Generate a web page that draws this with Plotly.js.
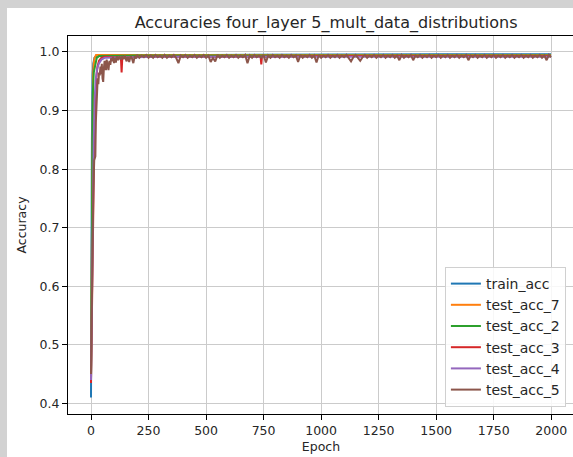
<!DOCTYPE html>
<html>
<head>
<meta charset="utf-8">
<script src="https://cdn.plot.ly/plotly-3.0.1.min.js"></script>
<style>
html, body { margin:0; padding:0; overflow:hidden; background:#d2d2d2; width:573px; height:457px; }
#plot { position:absolute; left:7px; top:8px; width:568px; height:449px; background:#fff; }
</style>
</head>
<body>
<div id="plot"></div>
<script>
// Series data (epoch, accuracy)
const seriesNames = ["train_acc", "test_acc_7", "test_acc_2", "test_acc_3", "test_acc_4", "test_acc_5"];
const seriesColors = ["#1f77b4", "#ff7f0e", "#2ca02c", "#d62728", "#9467bd", "#8c564b"];

const trainEpochs = [0, 1, 2, 3, 4, 5, 7, 10, 15, 25, 100, 500, 1000, 1500, 1999];
const trainAcc    = [0.41, 0.47, 0.60, 0.74, 0.85, 0.92, 0.96, 0.98, 0.99, 0.994, 0.995, 0.995, 0.996, 0.996, 0.996];

const test7Epochs = [0, 2, 4, 6, 9, 12, 16, 22, 100, 500, 1000, 1500, 1999];
const test7Acc    = [0.44, 0.60, 0.80, 0.90, 0.96, 0.98, 0.99, 0.995, 0.995, 0.995, 0.995, 0.995, 0.995];

const test2Epochs = [0, 3, 5, 8, 12, 18, 25, 35, 200, 800, 1400, 1999];
const test2Acc    = [0.44, 0.70, 0.85, 0.93, 0.965, 0.98, 0.99, 0.993, 0.994, 0.994, 0.994, 0.994];

const test3Epochs = [0, 3, 6, 10, 13, 16, 18, 22, 28, 35, 45, 60, 100, 130, 133, 136, 200, 400, 737, 740, 743, 1000, 1500, 1999];
const test3Acc    = [0.435, 0.52, 0.64, 0.76, 0.82, 0.83, 0.90, 0.95, 0.975, 0.985, 0.99, 0.992, 0.991, 0.99, 0.965, 0.99, 0.992, 0.992, 0.992, 0.979, 0.992, 0.993, 0.993, 0.993];

const test4Epochs = [0, 4, 8, 12, 16, 20, 26, 34, 45, 60, 300, 900, 1500, 1999];
const test4Acc    = [0.44, 0.60, 0.75, 0.85, 0.92, 0.95, 0.97, 0.98, 0.987, 0.99, 0.992, 0.992, 0.992, 0.992];

const test5Epochs = [0, 3, 6, 10, 14, 19, 21, 23, 26, 29, 32, 35, 38, 41, 44, 47, 50, 53, 56, 59, 62, 65, 68, 72, 76, 80, 84, 88, 92, 96,
  100, 104, 108, 112, 118, 124, 130, 136, 142, 148, 154, 160, 166, 172, 178, 184, 190, 196,
  200, 210, 220, 230, 240, 250, 260, 270, 280, 290, 300, 310, 320, 330, 340, 350, 360, 370, 380, 390,
  400, 410, 420, 430, 440, 450, 460, 470, 480, 490, 500, 510, 520, 530, 540, 550, 560, 570, 580, 590,
  600, 610, 620, 630, 640, 650, 660, 670, 680, 690, 700, 710, 720, 730, 740, 750, 760, 770, 780, 790,
  800, 810, 820, 830, 840, 850, 860, 870, 880, 890, 900, 910, 920, 930, 940, 950, 960, 970, 980, 990,
  1000, 1010, 1020, 1030, 1040, 1050, 1060, 1070, 1080, 1090, 1100, 1110, 1120, 1130, 1140, 1150, 1160, 1170, 1180, 1190,
  1200, 1210, 1220, 1230, 1240, 1250, 1260, 1270, 1280, 1290, 1300, 1310, 1320, 1330, 1340, 1350, 1360, 1370, 1380, 1390,
  1400, 1410, 1420, 1430, 1440, 1450, 1460, 1470, 1480, 1490, 1500, 1510, 1520, 1530, 1540, 1550, 1560, 1570, 1580, 1590,
  1600, 1610, 1620, 1630, 1640, 1650, 1660, 1670, 1680, 1690, 1700, 1710, 1720, 1730, 1740, 1750, 1760, 1770, 1780, 1790,
  1800, 1810, 1820, 1830, 1840, 1850, 1860, 1870, 1880, 1890, 1900, 1910, 1920, 1930, 1940, 1950, 1960, 1970, 1980, 1990, 1999];
const test5Acc = [0.45, 0.56, 0.66, 0.76, 0.815, 0.822, 0.88, 0.906, 0.93, 0.955, 0.945, 0.965, 0.96, 0.975, 0.962, 0.98, 0.955, 0.949, 0.972, 0.985, 0.975, 0.969, 0.987, 0.978, 0.969, 0.985, 0.978, 0.99, 0.984, 0.992,
  0.981, 0.99, 0.982, 0.993, 0.986, 0.993, 0.987, 0.993, 0.988, 0.994, 0.984, 0.992, 0.983, 0.993, 0.989, 0.981, 0.993, 0.989,
  0.995, 0.990, 0.994, 0.991, 0.995, 0.990, 0.994, 0.990, 0.995, 0.991, 0.994, 0.990, 0.995, 0.990, 0.994, 0.991, 0.995, 0.990, 0.981, 0.994,
  0.991, 0.995, 0.990, 0.994, 0.991, 0.995, 0.990, 0.994, 0.991, 0.995, 0.990, 0.994, 0.983, 0.990, 0.984, 0.995, 0.990, 0.994, 0.991, 0.995,
  0.990, 0.994, 0.991, 0.995, 0.990, 0.994, 0.991, 0.995, 0.981, 0.994, 0.990, 0.995, 0.991, 0.994, 0.990, 0.995, 0.982, 0.994, 0.990, 0.995,
  0.991, 0.994, 0.990, 0.995, 0.991, 0.994, 0.990, 0.995, 0.991, 0.994, 0.983, 0.995, 0.990, 0.994, 0.991, 0.995, 0.990, 0.994, 0.982, 0.995,
  0.990, 0.994, 0.991, 0.995, 0.990, 0.994, 0.991, 0.995, 0.990, 0.994, 0.991, 0.995, 0.990, 0.984, 0.991, 0.995, 0.990, 0.985, 0.991, 0.995,
  0.990, 0.994, 0.991, 0.995, 0.990, 0.994, 0.991, 0.995, 0.990, 0.994, 0.991, 0.995, 0.990, 0.994, 0.986, 0.995, 0.990, 0.994, 0.991, 0.995,
  0.986, 0.994, 0.991, 0.995, 0.990, 0.994, 0.991, 0.995, 0.990, 0.994, 0.991, 0.995, 0.990, 0.994, 0.991, 0.995, 0.990, 0.994, 0.991, 0.995,
  0.990, 0.994, 0.991, 0.995, 0.986, 0.994, 0.991, 0.995, 0.990, 0.994, 0.991, 0.995, 0.990, 0.994, 0.991, 0.995, 0.990, 0.994, 0.991, 0.995,
  0.990, 0.994, 0.991, 0.995, 0.990, 0.994, 0.991, 0.995, 0.990, 0.994, 0.991, 0.995, 0.990, 0.994, 0.991, 0.995, 0.990, 0.994, 0.986, 0.995, 0.991];

const xTicks = [0, 250, 500, 750, 1000, 1250, 1500, 1750, 2000];
const yTicks = [0.4, 0.5, 0.6, 0.7, 0.8, 0.9, 1.0];
const yTickLabels = ["0.4", "0.5", "0.6", "0.7", "0.8", "0.9", "1.0"];

const xs = [trainEpochs, test7Epochs, test2Epochs, test3Epochs, test4Epochs, test5Epochs];
const ys = [trainAcc, test7Acc, test2Acc, test3Acc, test4Acc, test5Acc];

const traces = seriesNames.map((n, i) => ({
  x: xs[i], y: ys[i], name: n, type: "scatter", mode: "lines",
  legendgroup: "g" + i,
  line: { color: seriesColors[i], width: 2 }
}));

const font = "DejaVu Sans, sans-serif";
const layout = {
  width: 568, height: 449,
  margin: { l: 61, r: 1, t: 28, b: 43 },
  paper_bgcolor: "#ffffff", plot_bgcolor: "#ffffff",
  font: { family: font, color: "#262626", size: 12.5 },
  title: { text: "Accuracies four_layer 5_mult_data_distributions", font: { family: font, size: 16, color: "#262626" },
           x: 0.51, xref: "paper", xanchor: "center", y: 0.969, yref: "container", yanchor: "middle" },
  xaxis: {
    range: [-99.95, 2098.95], tickvals: xTicks, ticktext: xTicks.map(String),
    showgrid: true, gridcolor: "#cbcbcb", gridwidth: 1,
    zeroline: false, showline: true, linecolor: "#000", linewidth: 1, mirror: true,
    ticks: "outside", ticklen: 5, tickwidth: 1, tickcolor: "#000",
    tickfont: { family: font, size: 12.5, color: "#262626" },
    title: { text: "Epoch", font: { family: font, size: 12.5, color: "#262626" }, standoff: 5 }
  },
  yaxis: {
    range: [0.3819, 1.0273], tickvals: yTicks, ticktext: yTickLabels,
    showgrid: true, gridcolor: "#cbcbcb", gridwidth: 1,
    zeroline: false, showline: true, linecolor: "#000", linewidth: 1, mirror: true,
    ticks: "outside", ticklen: 5, tickwidth: 1, tickcolor: "#000",
    tickfont: { family: font, size: 12.5, color: "#262626" },
    title: { text: "Accuracy", font: { family: font, size: 12.5, color: "#262626" }, standoff: 10 }
  },
  showlegend: true,
  legend: {
    x: 0.984, y: 0.0185, xanchor: "right", yanchor: "bottom",
    bgcolor: "rgba(255,255,255,0.85)", bordercolor: "#d0d0d0", borderwidth: 1,
    font: { family: font, size: 14, color: "#262626" },
    tracegroupgap: 0, itemwidth: 30
  }
};

Plotly.newPlot("plot", traces, layout, { displayModeBar: false, staticPlot: true });
</script>
</body>
</html>
